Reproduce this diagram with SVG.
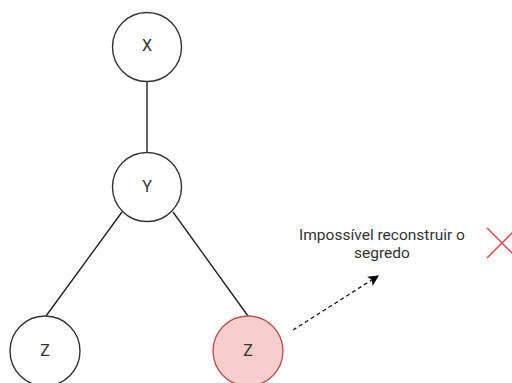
<svg xmlns="http://www.w3.org/2000/svg" width="512" height="383" viewBox="0 0 512 383">
  <style>
    .node { fill: #ffffff; stroke: #333333; stroke-width: 1.4; }
    .lost { fill: #f8cecc; stroke: #b85450; stroke-width: 1.4; }
    .lbl { font-family: Roboto, "Liberation Sans", sans-serif; font-size: 16px; fill: #333333; text-anchor: middle; }
    .note { font-family: Roboto, "Liberation Sans", sans-serif; font-size: 15.5px; fill: #333333; text-anchor: middle; }
    .edge { stroke: #222222; stroke-width: 1.4; fill: none; }
  </style>
  <defs>
    <marker id="arrow" viewBox="0 0 10 10" refX="9" refY="5" markerWidth="11" markerHeight="11" markerUnits="userSpaceOnUse" orient="auto">
      <path d="M0,0 L10,5 L0,10 L2.5,5 Z" fill="#000000"/>
    </marker>
  </defs>
  <rect width="512" height="383" fill="#ffffff"/>

  <g id="connectors">
    <line class="edge" x1="147" y1="81" x2="147" y2="152"/>
    <line class="edge" x1="122" y1="212" x2="46" y2="316"/>
    <line class="edge" x1="173" y1="212" x2="248" y2="316"/>
    <line class="edge" x1="293" y1="330" x2="378" y2="276" stroke-dasharray="4 3" stroke="#000000" marker-end="url(#arrow)"/>
  </g>

  <g id="node-x">
    <circle class="node" cx="147" cy="47" r="34.5"/>
    <text class="lbl" x="147" y="51">X</text>
  </g>
  <g id="node-y">
    <circle class="node" cx="147" cy="187" r="34.5"/>
    <text class="lbl" x="147" y="192">Y</text>
  </g>
  <g id="node-z-left">
    <circle class="node" cx="45" cy="351" r="35"/>
    <text class="lbl" x="45" y="356">Z</text>
  </g>
  <g id="node-z-right">
    <circle class="lost" cx="248" cy="351" r="35"/>
    <text class="lbl" x="248" y="356">Z</text>
  </g>

  <g id="note">
    <text class="note" x="382" y="240">Impossível reconstruir o</text>
    <text class="note" x="382" y="258">segredo</text>
  </g>

  <g id="cross" stroke="#d64545" stroke-width="1.4">
    <line x1="487" y1="228" x2="517" y2="258"/>
    <line x1="487" y1="258" x2="517" y2="228"/>
  </g>
</svg>
